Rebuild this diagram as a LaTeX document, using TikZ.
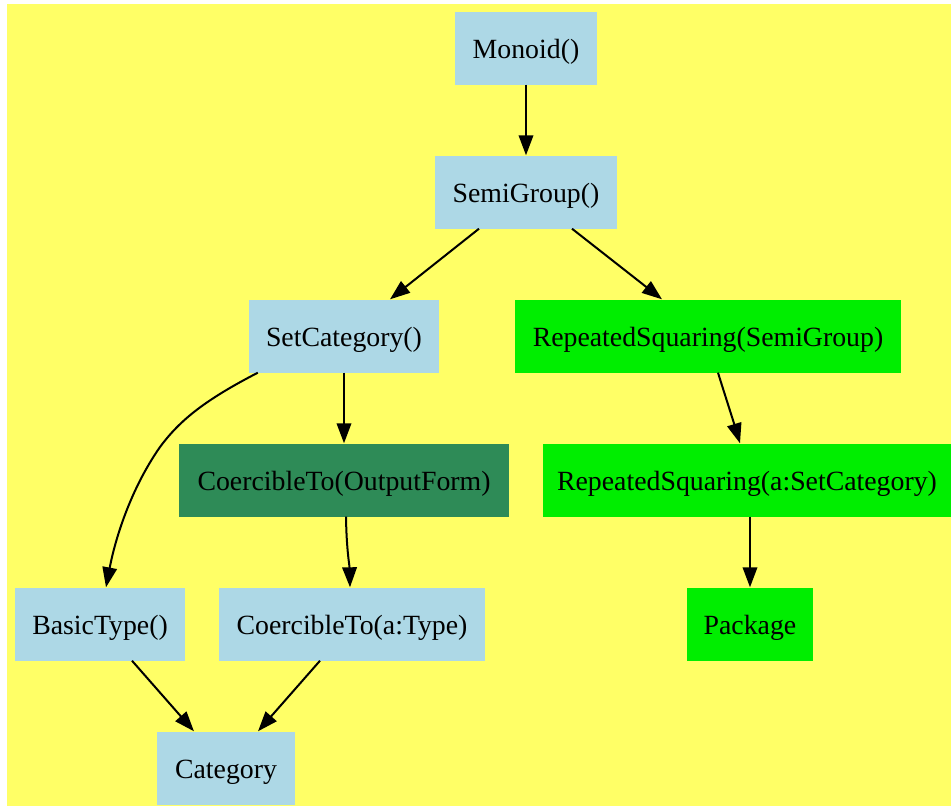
\documentclass[tikz,border=0pt]{standalone}
\usepackage{fontspec}
\setmainfont{Liberation Serif}
\usetikzlibrary{arrows.meta,calc}
\definecolor{bgyellow}{HTML}{FFFF66}
\definecolor{lblue}{HTML}{ADD8E6}
\definecolor{lgreen}{HTML}{00EE00}
\definecolor{sgreen}{HTML}{2E8B57}
\tikzset{
  box/.style={rectangle, inner sep=0pt, minimum height=73pt, fill=lblue,
    text height=27pt, text depth=5.8pt,
    font=\fontsize{27.8}{33}\selectfont, text=black},
  pkgbox/.style={box, fill=lgreen},
  dombox/.style={box, fill=sgreen},
  edge/.style={line width=2pt, -{Triangle[length=20pt,width=14.5pt]}},
}
\begin{document}
\begin{tikzpicture}[x=1pt,y=-1pt]
\useasboundingbox (0,0) rectangle (951,807);
\fill[bgyellow] (7,4) rectangle (951,806);
\node[box, minimum width=142pt] (mon) at (526,48) {Monoid()};
\node[box, minimum width=182pt] (sg) at (526,192) {SemiGroup()};
\node[box, minimum width=190pt] (sc) at (344,336) {SetCategory()};
\node[pkgbox, minimum width=386pt] (rs1) at (708,336) {RepeatedSquaring(SemiGroup)};
\node[dombox, minimum width=330pt] (cof) at (344,480) {CoercibleTo(OutputForm)};
\node[pkgbox, minimum width=408pt] (rs2) at (747,480) {RepeatedSquaring(a:SetCategory)};
\node[box, minimum width=170pt] (bt) at (100,624) {BasicType()};
\node[box, minimum width=266pt] (cot) at (352,624) {CoercibleTo(a:Type)};
\node[pkgbox, minimum width=126pt] (pkg) at (750,624) {Package};
\node[box, minimum width=138pt] (cat) at (226,768) {Category};

\draw[edge] (mon.south) -- (sg.north);
\draw[edge] ($(sg.south)+(-47,0)$) -- ($(sc.north)+(46,0)$);
\draw[edge] ($(sg.south)+(46,0)$) -- ($(rs1.north)+(-46,0)$);
\draw[edge] (sc.south) -- (cof.north);
\draw[edge] ($(sc.south west)+(9,0)$) .. controls (205,400) and (180,420) .. (160,447)
  .. controls (130,490) and (115,540) .. ($(bt.north)+(6,0)$);
\draw[edge] ($(rs1.south)+(10,0)$) .. controls (724,392) and (733,420) .. ($(rs2.north)+(-7,0)$);
\draw[edge] (pkg.north |- rs2.south) -- (pkg.north);
\draw[edge] ($(cof.south)+(2,0)$) .. controls (346.5,550) and (349.5,565) .. ($(cot.north)+(-2,0)$);
\draw[edge] ($(bt.south)+(32,0)$) -- ($(cat.north)+(-32,0)$);
\draw[edge] ($(cot.south)+(-32,0)$) -- ($(cat.north)+(32,0)$);
\end{tikzpicture}
\end{document}
